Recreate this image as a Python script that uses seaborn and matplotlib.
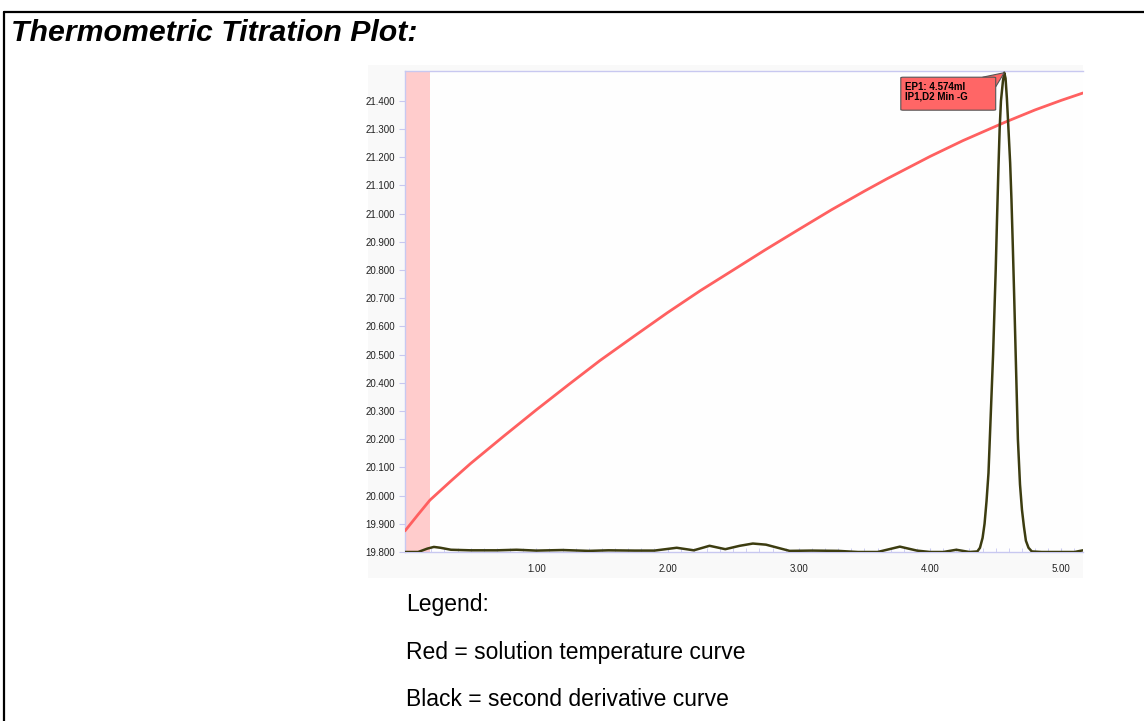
import matplotlib
matplotlib.use("Agg")
import matplotlib.pyplot as plt
import seaborn as sns
import pandas as pd
from matplotlib.patches import Rectangle, FancyBboxPatch, Polygon
from matplotlib.lines import Line2D
from matplotlib.ticker import MultipleLocator, FormatStrFormatter

# Red curve: solution temperature (volume ml, temperature)
temp_ml = [0.0, 0.1, 0.19, 0.35, 0.5, 0.75, 1.0, 1.25, 1.485, 1.75, 2.0, 2.25, 2.5, 2.742,
           3.0, 3.25, 3.5, 3.673, 4.0, 4.25, 4.574, 4.8, 5.0, 5.165]
temp_val = [19.875, 19.933, 19.984, 20.052, 20.114, 20.21, 20.304, 20.395, 20.479, 20.567,
            20.649, 20.727, 20.800, 20.871, 20.944, 21.014, 21.080, 21.124, 21.203, 21.259,
            21.325, 21.368, 21.402, 21.428]

# Black curve: second derivative (scaled onto the same axis)
d2_ml = [0.00, 0.10, 0.17, 0.22, 0.27, 0.35, 0.50, 0.70, 0.85, 1.00, 1.20, 1.40, 1.55, 1.75,
         1.90, 2.07, 2.20, 2.32, 2.44, 2.55, 2.65, 2.75, 2.93, 3.10, 3.30, 3.45, 3.60, 3.77,
         3.90, 4.00, 4.10, 4.20, 4.30, 4.36, 4.38, 4.40, 4.415, 4.43, 4.445, 4.455, 4.47, 4.48,
         4.49, 4.50, 4.51, 4.52, 4.53, 4.54, 4.555, 4.565, 4.575, 4.585, 4.595, 4.61, 4.62,
         4.63, 4.64, 4.655, 4.669, 4.685, 4.70, 4.715, 4.73, 4.75, 4.775, 4.85, 5.00, 5.10, 5.165]
d2_val = [19.800, 19.800, 19.812, 19.818, 19.815, 19.808, 19.806, 19.806, 19.808, 19.805, 19.807,
          19.804, 19.806, 19.805, 19.805, 19.815, 19.806, 19.822, 19.810, 19.822, 19.830, 19.826,
          19.804, 19.805, 19.804, 19.800, 19.800, 19.819, 19.805, 19.800, 19.800, 19.808, 19.800,
          19.802, 19.815, 19.85, 19.90, 19.98, 20.08, 20.20, 20.38, 20.50, 20.65, 20.80, 20.98,
          21.15, 21.30, 21.40, 21.47, 21.50, 21.48, 21.41, 21.32, 21.18, 21.05, 20.89, 20.72,
          20.45, 20.20, 20.04, 19.95, 19.89, 19.84, 19.815, 19.802, 19.800, 19.800, 19.800, 19.806]

band = (0.0, 0.19)
x_ticks = [1.0, 2.0, 3.0, 4.0, 5.0]
ep_label = "EP1: 4.574ml\nIP1,D2 Min -G"
legend_lines = ["Legend:", "Red = solution temperature curve", "Black = second derivative curve"]

df_t = pd.DataFrame({"ml": temp_ml, "val": temp_val})
df_d = pd.DataFrame({"ml": d2_ml, "val": d2_val})

sns.set_style("white")
plt.rcParams["font.family"] = ["Liberation Sans", "DejaVu Sans"]
plt.rcParams["text.color"] = "black"

fig = plt.figure(figsize=(11.44, 7.21), dpi=100)

# page frame (top and left rule)
fig.add_artist(Line2D([3.5 / 1144, 1.0], [1 - 11.5 / 721] * 2, color="black", lw=1.6))
fig.add_artist(Line2D([4 / 1144] * 2, [0, 1 - 11.5 / 721], color="black", lw=1.6))

# faint panel behind the plot
fig.add_artist(Rectangle((368 / 1144, 1 - 578 / 721), (1083 - 368) / 1144, (578 - 65) / 721,
                         transform=fig.transFigure, fc="#f9f9f9", ec="none", zorder=0))

fig.text(11 / 1144, 1 - 33 / 721, "Thermometric Titration Plot:", fontsize=21.8,
         fontweight="bold", fontstyle="italic", va="center", ha="left")

ax = fig.add_axes([405 / 1144, 1 - 552 / 721, (1083 - 405) / 1144, (552 - 71) / 721])
ax.set_facecolor("#fefefe")

ax.axvspan(band[0], band[1], color="#ffcccc", lw=0, zorder=1)

sns.lineplot(data=df_t, x="ml", y="val", ax=ax, color="#ff6060", lw=2, zorder=3)
sns.lineplot(data=df_d, x="ml", y="val", ax=ax, color="#3c3c10", lw=1.8, zorder=4)

ax.set_xlim(0, 5.165)
ax.set_ylim(19.8, 21.506)
ax.set_xlabel("")
ax.set_ylabel("")

ax.set_xticks(x_ticks)
ax.xaxis.set_minor_locator(MultipleLocator(0.1))
ax.xaxis.set_major_formatter(FormatStrFormatter("%.2f"))
ax.yaxis.set_major_locator(MultipleLocator(0.1))
ax.yaxis.set_major_formatter(FormatStrFormatter("%.3f"))
ax.set_yticks([t for t in ax.get_yticks() if 19.79 < t < 21.45])

lav = "#c8c8f0"
ax.tick_params(axis="x", which="both", direction="in", length=3, color=lav,
               labelsize=7, labelcolor="#222222", pad=9, bottom=True)
ax.tick_params(axis="y", which="both", direction="out", length=4, color=lav,
               labelsize=7, labelcolor="#222222", pad=3, left=True)
for side in ["left", "top", "bottom"]:
    ax.spines[side].set_color(lav)
    ax.spines[side].set_linewidth(1)
ax.spines["right"].set_visible(False)

# end point callout
ax.add_patch(Polygon([(4.40, 21.484), (4.50, 21.45), (4.565, 21.50)], closed=True,
                     fc="#ff6666", ec="#555555", lw=0.8, zorder=5, clip_on=False))
ax.add_patch(FancyBboxPatch((3.777, 21.367), 0.723, 0.117,
                            boxstyle="round,pad=0,rounding_size=0.02", mutation_aspect=0.1,
                            fc="#ff6666", ec="#555555", lw=0.8, zorder=6, clip_on=False))
ax.text(3.81, 21.468, ep_label, fontsize=7, fontweight="bold", va="top", ha="left",
        linespacing=1.0, zorder=7)

ys = [605, 653, 700]
for txt, y in zip(legend_lines, ys):
    fig.text(406 / 1144, 1 - y / 721, txt, fontsize=16.5, va="center", ha="left")

fig.savefig("out.png", dpi=100)
